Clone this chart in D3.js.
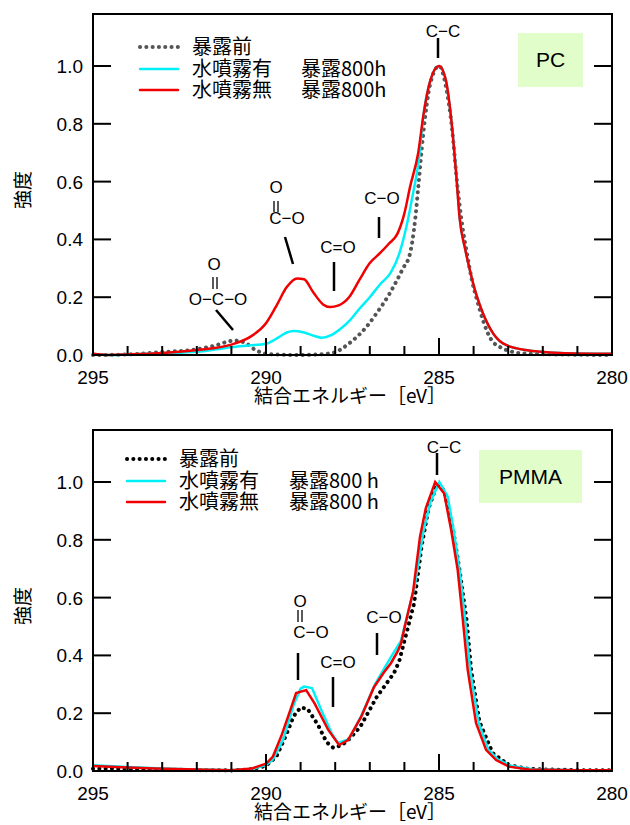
<!doctype html>
<meta charset="utf-8">
<title>XPS C1s</title>
<script src="https://cdn.jsdelivr.net/npm/d3@7"></script>
<style>
  body { margin: 0; background: #fff; }
  text { font-family: "Liberation Sans", Arial, sans-serif; fill: #000; }
  .jp { font-family: "Noto Sans CJK JP", "Noto Sans", sans-serif; }
</style>
<body>
<svg id="chart" width="630" height="825"></svg>
<script>

// ---- data: [binding energy eV, normalized intensity] ----
var xTicks = [295, 290, 285, 280];
var yTicks = [0, 0.2, 0.4, 0.6, 0.8, 1.0];
var legendNames = ["暴露前", "水噴霧有", "水噴霧無"];

// PC
var pcBefore = [[295,0],[294,0.002],[293,0.01],[292,0.02],[291.5,0.032],[290.9,0.05],[290.6,0.042],[290.3,0.017],
  [289.9,0.003],[289.5,0.001],[289,0],[288.5,0.002],[288.05,0.008],[287.6,0.04],[287.1,0.097],[286.8,0.145],
  [286.42,0.214],[286.04,0.30],[285.84,0.35],[285.69,0.467],[285.6,0.58],[285.46,0.76],[285.25,0.94],[285.0,1.0],
  [284.8,0.93],[284.62,0.78],[284.48,0.6],[284.33,0.45],[284.19,0.35],[284.05,0.26],[283.9,0.19],[283.7,0.11],
  [283.5,0.055],[283.2,0.025],[283.0,0.015],[282.5,0.005],[281,0.001],[280,0]];
var pcMist = [[295,0.004],[294.6,0],[294,0.002],[293,0.006],[292,0.011],[291,0.027],[290.5,0.033],[290.0,0.039],
  [289.65,0.06],[289.4,0.078],[289.2,0.083],[288.9,0.078],[288.6,0.066],[288.4,0.06],[288.1,0.07],[287.8,0.095],
  [287.57,0.121],[287.3,0.16],[287.0,0.2],[286.7,0.245],[286.4,0.284],[286.15,0.35],[285.9,0.467],[285.75,0.56],
  [285.6,0.66],[285.45,0.83],[285.25,0.95],[285.0,1.0],[284.8,0.95],[284.65,0.82],[284.5,0.63],[284.4,0.47],
  [284.25,0.37],[284.1,0.29],[283.95,0.22],[283.8,0.166],[283.5,0.087],[283.15,0.04],[282.5,0.017],[281.5,0.007],[280,0.004]];
var pcNoMist = [[295,0.004],[294.6,0],[294,0.002],[293,0.007],[292,0.017],[291,0.036],[290.4,0.067],[290.0,0.11],
  [289.7,0.17],[289.4,0.235],[289.1,0.265],[288.9,0.262],[288.64,0.218],[288.35,0.175],[288.15,0.166],[287.9,0.172],
  [287.6,0.2],[287.3,0.26],[287.0,0.318],[286.7,0.353],[286.45,0.385],[286.2,0.42],[286.0,0.49],[285.84,0.58],
  [285.6,0.70],[285.45,0.83],[285.25,0.95],[285.0,1.0],[284.8,0.95],[284.65,0.82],[284.5,0.62],[284.4,0.47],
  [284.25,0.37],[284.1,0.29],[283.95,0.22],[283.8,0.166],[283.5,0.087],[283.15,0.04],[282.5,0.017],[281.5,0.007],[280,0.004]];

// PMMA
var pmmaBefore = [[295,0.008],[294,0.007],[293,0.005],[292,0.003],[291,0.002],[290.4,0.006],[290.0,0.018],
  [289.7,0.05],[289.4,0.13],[289.2,0.19],[289.0,0.22],[288.8,0.215],[288.5,0.16],[288.25,0.1],[288.05,0.08],
  [287.8,0.09],[287.6,0.11],[287.28,0.152],[286.8,0.256],[286.3,0.339],[286.15,0.38],[286.0,0.45],[285.72,0.58],
  [285.5,0.78],[285.3,0.91],[285.05,0.995],[284.85,0.97],[284.6,0.84],[284.4,0.69],[284.2,0.52],[284.07,0.35],
  [283.83,0.17],[283.45,0.062],[282.98,0.02],[282.4,0.007],[281,0.003],[280,0.003]];
var pmmaMist = [[295,0.02],[294,0.014],[293,0.009],[292,0.005],[291,0.003],[290.4,0.007],[290.0,0.02],
  [289.8,0.04],[289.5,0.11],[289.2,0.23],[289.0,0.285],[288.9,0.292],[288.67,0.287],[288.4,0.21],[288.1,0.13],
  [287.92,0.097],[287.6,0.11],[287.25,0.19],[286.85,0.3],[286.39,0.394],[286.1,0.45],[285.85,0.57],[285.7,0.64],
  [285.45,0.83],[285.25,0.93],[284.99,1.0],[284.75,0.95],[284.58,0.835],[284.4,0.69],[284.24,0.52],[284.1,0.35],
  [283.86,0.17],[283.58,0.075],[283.3,0.04],[282.9,0.017],[282.3,0.006],[281,0.003],[280,0.003]];
var pmmaNoMist = [[295,0.017],[294,0.012],[293.2,0.009],[292,0.005],[291,0.003],[290.4,0.009],[290.0,0.025],
  [289.8,0.05],[289.56,0.12],[289.3,0.21],[289.13,0.27],[288.84,0.28],[288.6,0.235],[288.2,0.142],[287.89,0.09],
  [287.63,0.107],[287.25,0.187],[286.88,0.29],[286.6,0.34],[286.39,0.373],[286.2,0.413],[286.1,0.44],[285.95,0.52],
  [285.75,0.62],[285.55,0.81],[285.38,0.91],[285.11,1.0],[284.85,0.96],[284.65,0.835],[284.46,0.696],[284.31,0.522],
  [284.17,0.35],[283.93,0.166],[283.64,0.073],[283.35,0.038],[282.98,0.015],[282.4,0.005],[281,0.003],[280,0.003]];

var svg = d3.select("#chart");
svg.append("rect").attr("width", 630).attr("height", 825).attr("fill", "#fff");

var panels = [
  { top: 14, name: "PC", series: [pcBefore, pcMist, pcNoMist], dotColor: "#555", curve: d3.curveMonotoneX,
    box: [518, 33, 65, 54], legendX: 140, legendY: 47, textX: 192, hourX: 301, hourLabel: "暴露800h",
    notes: [
      { lines: [[438, 38, 438, 58]], texts: [["C\u2212C", 443, 31]] },
      { lines: [[285, 237, 293, 264]], texts: [["O", 276, 187], ["C\u2212O", 287, 218]], bond: [276, 201, 212] },
      { lines: [[334, 262, 334, 291]], texts: [["C=O", 338, 247]] },
      { lines: [[379, 217, 379, 238]], texts: [["C\u2212O", 382, 198]] },
      { lines: [[216, 310, 233, 330]], texts: [["O", 214, 264], ["O\u2212C\u2212O", 218, 299]], bond: [215, 277, 289] }
    ] },
  { top: 430, name: "PMMA", series: [pmmaBefore, pmmaMist, pmmaNoMist], dotColor: "#000", curve: d3.curveLinear,
    box: [479, 450, 103, 53], legendX: 127, legendY: 459, textX: 179, hourX: 289, hourLabel: "暴露800 h",
    notes: [
      { lines: [[437, 453, 437, 475]], texts: [["C\u2212C", 444, 447]] },
      { lines: [[298, 653, 298, 680]], texts: [["O", 300, 601], ["C\u2212O", 311, 632]], bond: [300, 610, 622] },
      { lines: [[333, 677, 333, 707]], texts: [["C=O", 338, 662]] },
      { lines: [[377, 633, 377, 655]], texts: [["C\u2212O", 384, 617]] }
    ] }
];

var left = 93, right = 612, plotH = 341;

panels.forEach(function(p) {
  var g = svg.append("g");
  var x = d3.scaleLinear().domain([295, 280]).range([left, right]);
  var y = d3.scaleLinear().domain([0, 1.18]).range([p.top + plotH, p.top]);
  var y0 = y(0);

  // label box
  g.append("rect").attr("x", p.box[0]).attr("y", p.box[1]).attr("width", p.box[2]).attr("height", p.box[3])
    .attr("fill", "#e0fdca");
  g.append("text").attr("x", p.box[0] + p.box[2] / 2).attr("y", p.box[1] + p.box[3] / 2 + 7)
    .attr("text-anchor", "middle").attr("font-size", 21).text(p.name);

  // curves
  var line = d3.line().x(function(d) { return x(d[0]); }).y(function(d) { return y(d[1]); }).curve(p.curve);
  g.append("path").datum(p.series[0]).attr("d", line).attr("fill", "none")
    .attr("stroke", p.dotColor).attr("stroke-width", 4).attr("stroke-linecap", "round")
    .attr("stroke-dasharray", "0.1,6.2");
  g.append("path").datum(p.series[1]).attr("d", line).attr("fill", "none")
    .attr("stroke", "#00f0f8").attr("stroke-width", 2.5);
  g.append("path").datum(p.series[2]).attr("d", line).attr("fill", "none")
    .attr("stroke", "#f00000").attr("stroke-width", 2.5);

  // frame
  g.append("rect").attr("x", left).attr("y", p.top).attr("width", right - left).attr("height", plotH)
    .attr("fill", "none").attr("stroke", "#000").attr("stroke-width", 2);

  // y ticks (inside, both sides)
  yTicks.forEach(function(t) {
    var yy = y(t);
    if (t > 0) {
      g.append("line").attr("x1", left).attr("x2", left + 18).attr("y1", yy).attr("y2", yy)
        .attr("stroke", "#000").attr("stroke-width", 2);
      g.append("line").attr("x1", right - 18).attr("x2", right).attr("y1", yy).attr("y2", yy)
        .attr("stroke", "#000").attr("stroke-width", 2);
    }
    g.append("text").attr("x", left - 10).attr("y", yy + 7).attr("text-anchor", "end")
      .attr("font-size", 19).text(d3.format(".1f")(t));
  });

  // x ticks (inside, from bottom)
  d3.range(294, 280, -1).forEach(function(v) {
    var major = v % 5 === 0;
    g.append("line").attr("x1", x(v)).attr("x2", x(v)).attr("y1", y0).attr("y2", y0 - (major ? 17 : 9))
      .attr("stroke", "#000").attr("stroke-width", 2);
  });
  xTicks.forEach(function(v) {
    g.append("text").attr("x", x(v)).attr("y", y0 + 29).attr("text-anchor", "middle")
      .attr("font-size", 19).text(v);
  });

  // axis titles
  g.append("text").attr("class", "jp").attr("x", 350).attr("y", y0 + 48).attr("text-anchor", "middle")
    .attr("font-size", 19).text("結合エネルギー［eV］");
  g.append("text").attr("class", "jp").attr("transform", "translate(30," + (p.top + 176) + ") rotate(-90)")
    .attr("text-anchor", "middle").attr("font-size", 19).text("強度");

  // legend
  var ly = [p.legendY, p.legendY + 22, p.legendY + 43];
  var styles = [[p.dotColor, "0.1,6.2", 4], ["#00f0f8", null, 2.5], ["#f00000", null, 2.5]];
  ly.forEach(function(yy, i) {
    g.append("line").attr("x1", p.legendX).attr("x2", p.legendX + 38).attr("y1", yy).attr("y2", yy)
      .attr("stroke", styles[i][0]).attr("stroke-width", styles[i][2]).attr("stroke-linecap", "round")
      .attr("stroke-dasharray", styles[i][1]);
    g.append("text").attr("class", "jp").attr("x", p.textX).attr("y", yy + 7).attr("font-size", 20)
      .text(legendNames[i]);
    if (i > 0) {
      g.append("text").attr("class", "jp").attr("x", p.hourX).attr("y", yy + 7).attr("font-size", 20)
        .text(p.hourLabel);
    }
  });

  // peak annotations
  p.notes.forEach(function(n) {
    n.lines.forEach(function(l) {
      g.append("line").attr("x1", l[0]).attr("y1", l[1]).attr("x2", l[2]).attr("y2", l[3])
        .attr("stroke", "#000").attr("stroke-width", 2.5);
    });
    n.texts.forEach(function(t) {
      g.append("text").attr("x", t[1]).attr("y", t[2] + 6).attr("text-anchor", "middle")
        .attr("font-size", 17).text(t[0]);
    });
    if (n.bond) {
      [-2, 2].forEach(function(dx) {
        g.append("line").attr("x1", n.bond[0] + dx).attr("x2", n.bond[0] + dx)
          .attr("y1", n.bond[1]).attr("y2", n.bond[2]).attr("stroke", "#000").attr("stroke-width", 1.3);
      });
    }
  });
});

</script>
</body>
